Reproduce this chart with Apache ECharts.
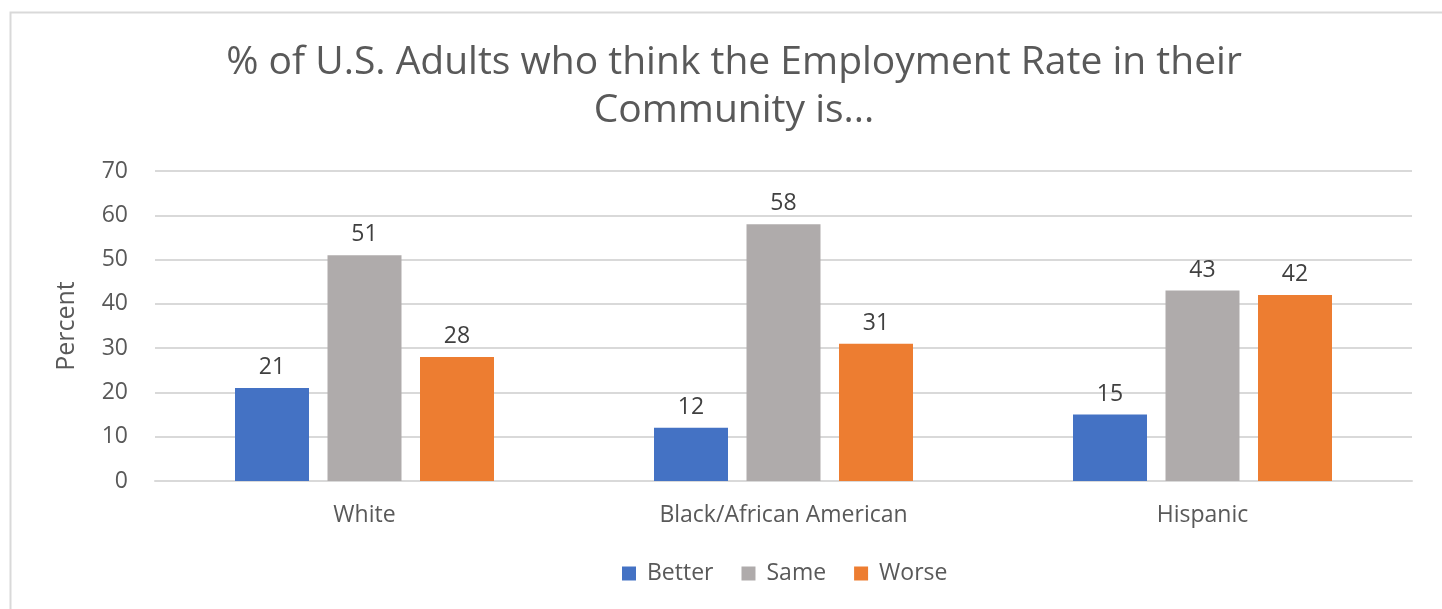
<!DOCTYPE html>
<html><head><meta charset="utf-8">
<script src="https://cdn.jsdelivr.net/npm/echarts@6/dist/echarts.min.js"></script>
<style>html,body{margin:0;padding:0;background:#fff}#c{width:1442px;height:609px}</style>
</head><body><div id="c"></div>
<script>
const categories = ["White", "Black/African American", "Hispanic"];
const better = [21, 12, 15];
const same = [51, 58, 43];
const worse = [28, 31, 42];
const yTicks = [0, 10, 20, 30, 40, 50, 60, 70];

const font = "'Open Sans', 'Noto Sans', sans-serif";
const chart = echarts.init(document.getElementById('c'));
const lbl = {show: true, position: 'top', distance: 9, color: '#404040', fontSize: 23, fontFamily: font};
chart.setOption({
  animation: false,
  graphic: [{type: 'rect', shape: {x: 10.5, y: 12.5, width: 1460, height: 640}, style: {fill: 'none', stroke: '#d9d9d9', lineWidth: 2}}],
  title: {
    text: '% of U.S. Adults who think the Employment Rate in their\nCommunity is...',
    left: 729, textAlign: 'center', top: 34,
    textStyle: {fontSize: 39, fontWeight: 'normal', color: '#595959', fontFamily: font, lineHeight: 48}
  },
  legend: {
    bottom: 19, left: 617, itemWidth: 14, itemHeight: 14, itemGap: 28,
    icon: 'rect',
    textStyle: {fontSize: 23, color: '#595959', fontFamily: font, padding: [0, 0, 0, 6]}
  },
  grid: {left: 155, right: 30, top: 171, bottom: 128},
  xAxis: {
    type: 'category', data: categories,
    axisLine: {lineStyle: {color: '#d9d9d9', width: 2}},
    axisTick: {show: false},
    axisLabel: {fontSize: 23, color: '#595959', fontFamily: font, margin: 23}
  },
  yAxis: {
    type: 'value', min: yTicks[0], max: yTicks[yTicks.length - 1], interval: 10,
    name: 'Percent', nameLocation: 'middle', nameGap: 76,
    nameTextStyle: {fontSize: 25, color: '#595959', fontFamily: font},
    axisLine: {show: false}, axisTick: {show: false},
    axisLabel: {fontSize: 23, color: '#595959', fontFamily: font, margin: 27},
    splitLine: {lineStyle: {color: '#d9d9d9', width: 2}}
  },
  series: [
    {name: 'Better', type: 'bar', data: better, barWidth: 74, barGap: '25%', itemStyle: {color: '#4472C4'}, label: lbl},
    {name: 'Same', type: 'bar', data: same, barWidth: 74, itemStyle: {color: '#AFABAB'}, label: lbl},
    {name: 'Worse', type: 'bar', data: worse, barWidth: 74, itemStyle: {color: '#ED7D31'}, label: lbl}
  ]
});
</script></body></html>
